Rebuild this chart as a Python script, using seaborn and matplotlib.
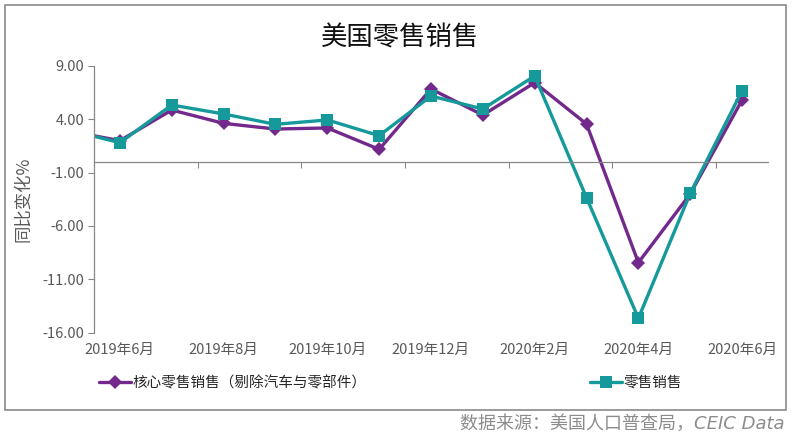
import matplotlib
matplotlib.use("Agg")
import matplotlib.pyplot as plt
import seaborn as sns
import pandas as pd
import numpy as np
from matplotlib.patches import Rectangle
from matplotlib.lines import Line2D

# ---- data ----
months = ["2019-05", "2019-06", "2019-07", "2019-08", "2019-09", "2019-10", "2019-11",
          "2019-12", "2020-01", "2020-02", "2020-03", "2020-04", "2020-05", "2020-06"]
core_retail = [2.9, 1.98, 4.85, 3.6, 3.07, 3.17, 1.17, 6.82, 4.38, 7.41, 3.54, -9.44, -3.01, 5.79]
retail = [3.0, 1.79, 5.32, 4.48, 3.51, 3.92, 2.45, 6.16, 4.95, 8.04, -3.36, -14.65, -2.95, 6.66]
series_names = ["核心零售销售（剔除汽车与零部件）", "零售销售"]
x_labels = ["2019年6月", "2019年8月", "2019年10月", "2019年12月", "2020年2月", "2020年4月", "2020年6月"]
label_months = ["2019-06", "2019-08", "2019-10", "2019-12", "2020-02", "2020-04", "2020-06"]
y_ticks = [9, 4, -1, -6, -11, -16]
title = "美国零售销售"
y_title = "同比变化%"
source = "数据来源：美国人口普查局，CEIC Data"

sns.set_theme(style="white")
plt.rcParams["font.family"] = ["Noto Sans CJK SC", "DejaVu Sans"]

W, H = 795, 438
fig = plt.figure(figsize=(W / 100, H / 100), dpi=100)
ax = fig.add_axes([94 / W, 1 - 332.7 / H, (768 - 94) / W, (332.7 - 65.7) / H])

pos = np.arange(len(months))
df = pd.DataFrame({"pos": pos, "core": core_retail, "retail": retail})

purple = "#73288C"
teal = "#16999A"
gray = "#878787"
txtgray = "#595959"

sns.lineplot(data=df, x="pos", y="core", ax=ax, color=purple, linewidth=2.4,
             marker="D", markersize=7, markeredgewidth=0, clip_on=True)
sns.lineplot(data=df, x="pos", y="retail", ax=ax, color=teal, linewidth=2.4,
             marker="s", markersize=8.5, markeredgewidth=0, clip_on=True)

ax.set_xlim(0.5, len(months) - 0.5)
ax.set_ylim(-16, 9)
ax.set_xlabel("")
ax.set_ylabel(y_title, color=txtgray, fontsize=12.5)
ax.yaxis.set_label_coords(-(94 - 32) / 674, 0.5)

ax.set_yticks(y_ticks)
ax.set_yticklabels([f"{v:.2f}" for v in y_ticks], color=txtgray, fontsize=10.5)
ax.tick_params(axis="y", direction="out", length=4, width=0.8, color=gray, pad=3, left=True)

for s in ["top", "right"]:
    ax.spines[s].set_visible(False)
ax.spines["left"].set_color(gray)
ax.spines["left"].set_linewidth(0.9)
ax.spines["bottom"].set_position(("data", 0))
ax.spines["bottom"].set_color(gray)
ax.spines["bottom"].set_linewidth(0.9)

boundaries = [p + 0.5 for p in pos[2::2] if p + 0.5 < len(months) - 0.5]
ax.set_xticks(boundaries)
ax.set_xticklabels([])
ax.tick_params(axis="x", direction="out", length=4.5, width=0.8, color=gray, bottom=True)
ax.grid(False)

# category labels along the bottom
ax2 = ax.twiny()
ax2.set_xlim(ax.get_xlim())
ax2.xaxis.set_ticks_position("bottom")
ax2.xaxis.set_label_position("bottom")
for s in ax2.spines.values():
    s.set_visible(False)
ax2.set_xticks([months.index(m) for m in label_months])
ax2.set_xticklabels(x_labels, color=txtgray, fontsize=10.5)
ax2.tick_params(axis="x", length=0, pad=7)
ax2.grid(False)

# title
fig.text(400 / W, 1 - 38 / H, title, ha="center", va="center", fontsize=19, color="#111111")

# legends
h1 = Line2D([], [], color=purple, linewidth=2.4, marker="D", markersize=7, markeredgewidth=0)
h2 = Line2D([], [], color=teal, linewidth=2.4, marker="s", markersize=8.5, markeredgewidth=0)
leg1 = fig.legend([h1], [series_names[0]], loc="center left", bbox_to_anchor=(86 / W, 1 - 383 / H),
                  frameon=False, handlelength=2.2, handletextpad=0.1, fontsize=10.5)
leg2 = fig.legend([h2], [series_names[1]], loc="center left", bbox_to_anchor=(577 / W, 1 - 383 / H),
                  frameon=False, handlelength=2.2, handletextpad=0.1, fontsize=10.5)
for t in leg1.get_texts() + leg2.get_texts():
    t.set_color("#262626")

# border
fig.add_artist(Rectangle((5 / W, 1 - 410 / H), (786 - 5) / W, (410 - 5) / H,
                         transform=fig.transFigure, fill=False, edgecolor="#8a8a8a", linewidth=1.2))

# source
fig.text(784 / W, 1 - 424 / H, source, ha="right", va="center", fontsize=13,
         color="#8c8c8c", style="italic", family=["DejaVu Sans", "Noto Sans CJK SC"])

fig.savefig("out.png", dpi=100)
